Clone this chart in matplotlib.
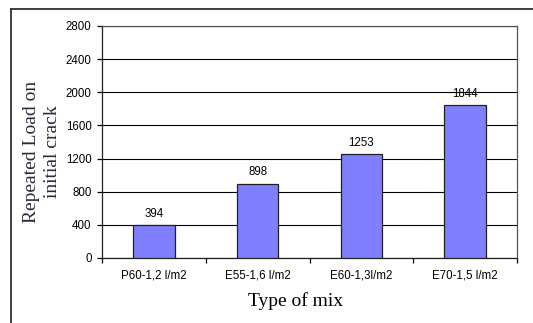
import matplotlib
matplotlib.use("Agg")
import matplotlib.pyplot as plt
from matplotlib.lines import Line2D

categories = ["P60-1,2 l/m2", "E55-1,6 l/m2", "E60-1,3l/m2", "E70-1,5 l/m2"]
loads = [394, 898, 1253, 1844]
y_ticks = [0, 400, 800, 1200, 1600, 2000, 2400, 2800]

W, H = 533, 323
fig = plt.figure(figsize=(W / 100, H / 100), dpi=100)
fig.patch.set_facecolor("white")

ax = fig.add_axes([102 / W, 1 - 258 / H, (517 - 102) / W, (258 - 26) / H])
x = list(range(len(categories)))
ax.bar(x, loads, width=0.4, color="#8080FF", edgecolor="#202020", linewidth=0.9, zorder=3)

ax.set_xlim(-0.5, len(categories) - 0.5)
ax.set_ylim(0, 2800)
ax.set_yticks(y_ticks)
ax.set_yticklabels([str(v) for v in y_ticks], fontsize=8.3, family="Liberation Sans")
ax.yaxis.grid(True, color="black", linewidth=0.8, zorder=0)
ax.set_axisbelow(True)

# category labels in the middle, tick marks between categories
ax.set_xticks(x)
ax.set_xticklabels(categories, fontsize=8.3, family="Liberation Sans")
ax.tick_params(axis="x", which="major", length=0, pad=8)
ax.set_xticks([i - 0.5 for i in range(len(categories) + 1)], minor=True)
ax.tick_params(axis="x", which="minor", length=3.5, width=0.9, direction="out")
ax.tick_params(axis="y", length=3.5, width=0.9, pad=4, direction="out")

for s in ax.spines.values():
    s.set_color("#202020")
    s.set_linewidth(0.9)
ax.spines["top"].set_color("#555555")
ax.spines["right"].set_color("#555555")

for xi, v in zip(x, loads):
    ax.annotate(str(v), (xi, v), xytext=(0, 4), textcoords="offset points",
                ha="center", va="bottom", fontsize=8.3, family="Liberation Sans")

fig.text(42 / W, 1 - 152 / H, "Repeated Load on\ninitial crack", rotation=90,
         ha="center", va="center", multialignment="center",
         fontsize=14, family="Liberation Serif", color="#2a2a3a", linespacing=1.3)
fig.text(295 / W, 1 - 301 / H, "Type of mix", ha="center", va="center",
         fontsize=14, family="Liberation Serif", color="black")

# outer frame (left and top edges)
fig.add_artist(Line2D([11 / W, 11 / W], [0, 1 - 9 / H], transform=fig.transFigure,
                      color="#303030", linewidth=1.3))
fig.add_artist(Line2D([11 / W, 1], [1 - 9 / H, 1 - 9 / H], transform=fig.transFigure,
                      color="#303030", linewidth=1.3))

fig.savefig("out.png", dpi=100)
